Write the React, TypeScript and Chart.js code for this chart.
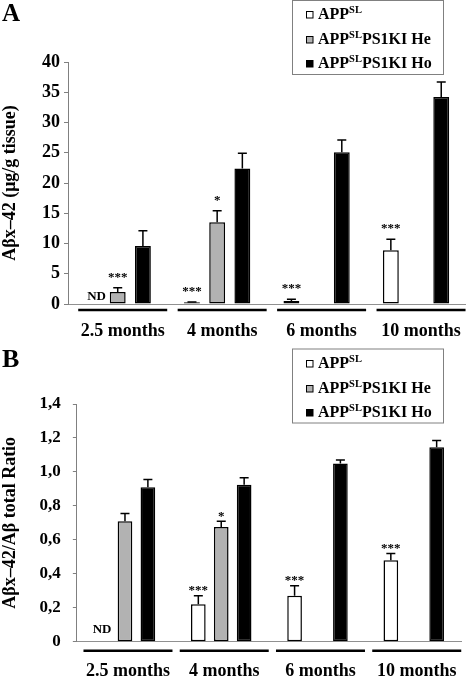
import React, { useEffect, useRef } from 'react';
import { Chart, registerables } from 'chart.js';
Chart.register(...registerables);

const FONT = "'Liberation Serif', 'Times New Roman', serif";

const categories = ['2.5 months', '4 months', '6 months', '10 months'];
const seriesLabels = ['APPSL', 'APPSLPS1KI He', 'APPSLPS1KI Ho'];
const legendBase = ['APP', 'APP', 'APP'];
const legendSup = ['SL', 'SL', 'SL'];
const legendSuffix = ['', 'PS1KI He', 'PS1KI Ho'];
const seriesColors = ['#ffffff', '#b2b2b2', '#000000'];

// Panel A values
const aSL = [null, 0.3, 0.5, 8.9];
const aSLErr = [null, 0.05, 0.3, 1.8];
const aHe = [2.0, 13.5, null, null];
const aHeErr = [0.7, 1.9, null, null];
const aHo = [9.6, 22.4, 25.1, 34.2];
const aHoErr = [2.5, 2.5, 2.0, 2.5];
const aSLMarks = ['ND', '***', '***', '***'];
const aHeMarks = ['***', '*', '', ''];
const aHoMarks = ['', '', '', ''];
const aTickValues = [0, 5, 10, 15, 20, 25, 30, 35, 40];
const aTickLabels = ['0', '5', '10', '15', '20', '25', '30', '35', '40'];
const aTitle = 'Aβx–42 (μg/g tissue)';

// Panel B values
const bSL = [null, 0.22, 0.27, 0.48];
const bSLErr = [null, 0.05, 0.06, 0.04];
const bHe = [0.71, 0.675, null, null];
const bHeErr = [0.045, 0.035, null, null];
const bHo = [0.91, 0.925, 1.05, 1.145];
const bHoErr = [0.045, 0.04, 0.02, 0.04];
const bSLMarks = ['ND', '***', '***', '***'];
const bHeMarks = ['', '*', '', ''];
const bHoMarks = ['', '', '', ''];
const bTickValues = [0, 0.2, 0.4, 0.6, 0.8, 1.0, 1.2, 1.4];
const bTickLabels = ['0', '0,2', '0,4', '0,6', '0,8', '1,0', '1,2', '1,4'];
const bTitle = 'Aβx–42/Aβ total Ratio';

type PanelCfg = {
  letter: string;
  height: number;
  series: (number | null)[][];
  errors: (number | null)[][];
  marks: string[][];
  tickValues: number[];
  tickLabels: string[];
  yMax: number;
  title: string;
  padTop: number;
  padBottom: number;
  yTickPad: number;
  titleBottomPad: number;
  yTickFont: number;
  xPad: number;
  catPct: number;
  barPct: number;
  legendTop: number;
  rowBaselines: number[];
  letterY: number;
  letterSize: number;
  starGap: number;
  ndGap: number;
  ndDx: number;
  underlineDy: number;
  labelShift: number;
};

const panelA: PanelCfg = {
  letter: 'A', height: 340,
  series: [aSL, aHe, aHo], errors: [aSLErr, aHeErr, aHoErr], marks: [aSLMarks, aHeMarks, aHoMarks],
  tickValues: aTickValues, tickLabels: aTickLabels, yMax: 40, title: aTitle,
  padTop: 62, padBottom: -18, yTickPad: 4, titleBottomPad: 16.4, yTickFont: 18, xPad: 16.2,
  catPct: 0.76, barPct: 0.63,
  legendTop: 0.5, rowBaselines: [19, 44, 68], letterY: 21, letterSize: 25,
  starGap: 7, ndGap: 4, ndDx: 4, underlineDy: 6, labelShift: 5,
};

const panelB: PanelCfg = {
  letter: 'B', height: 341,
  series: [bSL, bHe, bHo], errors: [bSLErr, bHeErr, bHoErr], marks: [bSLMarks, bHeMarks, bHoMarks],
  tickValues: bTickValues, tickLabels: bTickLabels, yMax: 1.4, title: bTitle,
  padTop: 64, padBottom: -19.3, yTickPad: 12, titleBottomPad: 6, yTickFont: 17, xPad: 18.5,
  catPct: 0.714, barPct: 0.64,
  legendTop: 9, rowBaselines: [28, 53, 77], letterY: 27, letterSize: 26,
  starGap: 1.5, ndGap: 9, ndDx: 0, underlineDy: 9, labelShift: 3,
};

function makeDecor(p: PanelCfg) {
  return {
    id: 'decor' + p.letter,
    afterDatasetsDraw(chart: any) {
      const ctx = chart.ctx;
      const ys = chart.scales.y;
      p.errors.forEach((errs, di) => {
        const meta = chart.getDatasetMeta(di);
        const vals = p.series[di];
        errs.forEach((e, i) => {
          const v = vals[i];
          if (v == null || e == null) return;
          const bx = meta.data[i].x;
          const y0 = ys.getPixelForValue(v);
          const y1 = ys.getPixelForValue(v + e);
          ctx.save();
          ctx.strokeStyle = '#000';
          ctx.lineWidth = 1.5;
          ctx.beginPath();
          ctx.moveTo(bx, y0);
          ctx.lineTo(bx, y1);
          ctx.moveTo(bx - 4.5, y1);
          ctx.lineTo(bx + 4.5, y1);
          ctx.stroke();
          ctx.restore();
        });
      });
      // significance marks
      p.marks.forEach((ms, di) => {
        const meta = chart.getDatasetMeta(di);
        ms.forEach((m, i) => {
          if (!m) return;
          const bx = meta.data[i].x;
          ctx.save();
          ctx.fillStyle = '#000';
          ctx.textAlign = 'center';
          ctx.textBaseline = 'alphabetic';
          ctx.font = `bold 13px ${FONT}`;
          if (m === 'ND') {
            ctx.fillText(m, bx + p.ndDx, ys.getPixelForValue(0) - p.ndGap);
          } else {
            const v = p.series[di][i] ?? 0;
            const e = p.errors[di][i] ?? 0;
            ctx.fillText(m, bx, ys.getPixelForValue(v + e) - p.starGap);
          }
          ctx.restore();
        });
      });
    },
    afterDraw(chart: any) {
      const ctx = chart.ctx;
      const xs = chart.scales.x;
      const area = chart.chartArea;
      // group underlines
      ctx.save();
      ctx.strokeStyle = '#000';
      ctx.lineWidth = 2.5;
      categories.forEach((_, i) => {
        const cx = xs.getPixelForValue(i) + p.labelShift;
        ctx.beginPath();
        ctx.moveTo(cx - 44.5, area.bottom + p.underlineDy);
        ctx.lineTo(cx + 44.5, area.bottom + p.underlineDy);
        ctx.stroke();
      });
      ctx.restore();
      // legend box
      const lx = 292.5, lw = 151, lh = 74;
      ctx.save();
      ctx.fillStyle = '#ffffff';
      ctx.fillRect(lx, p.legendTop, lw, lh);
      ctx.strokeStyle = '#808080';
      ctx.lineWidth = 1;
      ctx.strokeRect(lx, p.legendTop, lw, lh);
      legendBase.forEach((base, i) => {
        const yb = p.rowBaselines[i];
        ctx.fillStyle = seriesColors[i];
        ctx.fillRect(306.5, yb - 7.5, 6.5, 6.5);
        ctx.strokeStyle = '#000';
        ctx.lineWidth = 1;
        ctx.strokeRect(306.5, yb - 7.5, 6.5, 6.5);
        ctx.fillStyle = '#000';
        ctx.textBaseline = 'alphabetic';
        ctx.textAlign = 'left';
        let tx = 318;
        ctx.font = `bold 16px ${FONT}`;
        ctx.fillText(base, tx, yb);
        tx += ctx.measureText(base).width;
        ctx.font = `bold 10.5px ${FONT}`;
        ctx.fillText(legendSup[i], tx, yb - 6);
        tx += ctx.measureText(legendSup[i]).width;
        ctx.font = `bold 16px ${FONT}`;
        ctx.fillText(legendSuffix[i], tx, yb);
      });
      // panel letter
      ctx.font = `bold ${p.letterSize}px ${FONT}`;
      ctx.fillStyle = '#000';
      ctx.textAlign = 'left';
      ctx.fillText(p.letter, 2, p.letterY);
      ctx.restore();
    },
  };
}

function Panel({ p }: { p: PanelCfg }) {
  const ref = useRef<HTMLCanvasElement>(null);
  useEffect(() => {
    if (!ref.current) return;
    const chart = new Chart(ref.current, {
      type: 'bar',
      data: {
        labels: categories,
        datasets: p.series.map((vals, i) => ({
          label: seriesLabels[i],
          data: vals,
          backgroundColor: seriesColors[i],
          borderColor: '#000000',
          borderWidth: 1.5,
          borderSkipped: false,
          categoryPercentage: p.catPct,
          barPercentage: p.barPct,
        })),
      } as any,
      options: {
        responsive: false,
        animation: false,
        layout: { padding: { top: p.padTop, bottom: p.padBottom, left: 0, right: 0 } },
        plugins: { legend: { display: false }, tooltip: { enabled: false } },
        scales: {
          x: {
            grid: { display: false, drawTicks: false },
            border: { display: true, color: '#909090', width: 1 },
            ticks: {
              color: '#000',
              font: { family: FONT, size: 18, weight: 'bold' },
              padding: p.xPad,
              labelOffset: p.labelShift,
              maxRotation: 0,
              autoSkip: false,
            },
          },
          y: {
            min: 0,
            max: p.yMax,
            afterBuildTicks: (s: any) => {
              s.ticks = p.tickValues.map((v) => ({ value: v }));
            },
            grid: { display: true, drawOnChartArea: false, drawTicks: true, tickLength: 4, color: '#808080' },
            border: { display: true, color: '#808080', width: 1 },
            ticks: {
              color: '#000',
              font: { family: FONT, size: p.yTickFont, weight: 'bold' },
              padding: p.yTickPad,
              callback: (v: any) => {
                const idx = p.tickValues.findIndex((t) => Math.abs(t - Number(v)) < 1e-9);
                return idx >= 0 ? p.tickLabels[idx] : '';
              },
            },
            title: {
              display: true,
              text: p.title,
              color: '#000',
              font: { family: FONT, size: 18, weight: 'bold' },
              padding: { top: 0, bottom: p.titleBottomPad },
            },
          },
        },
      } as any,
      plugins: [makeDecor(p)],
    });
    return () => chart.destroy();
  }, [p]);
  return <canvas ref={ref} width={472} height={p.height} style={{ display: 'block' }} />;
}

export default function App() {
  return (
    <div style={{ position: 'absolute', left: 0, top: 0, width: 472, height: 681, background: '#fff' }}>
      <Panel p={panelA} />
      <Panel p={panelB} />
    </div>
  );
}
